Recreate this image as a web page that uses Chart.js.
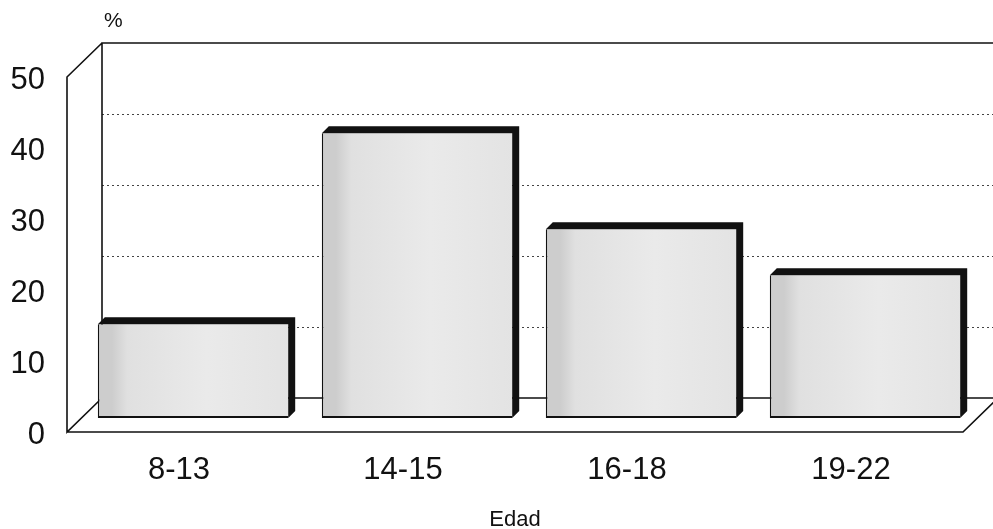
<!DOCTYPE html>
<html lang="es">
<head>
  <meta charset="UTF-8" />
  <title>Edad</title>
  <script src="https://cdn.jsdelivr.net/npm/chart.js"></script>
  <style>
    body { margin: 0; background: #fff; }
    #wrap { width: 993px; height: 529px; }
  </style>
</head>
<body>
<div id="wrap"><canvas id="chart"></canvas></div>
<script>
  const categories = ['8-13', '14-15', '16-18', '19-22'];
  const percent = [13.2, 40.1, 26.6, 20.1];
  const yTicks = [0, 10, 20, 30, 40, 50];
  const gridValues = [10, 20, 30, 40];

  const FONT = '"Liberation Sans", Arial, sans-serif';
  const BACK_DX = 35, BACK_DY = 34;   // back wall offset
  const BAR_DX = 14, BAR_DY = 14;     // bar row offset
  const BAR_DEPTH = 7;

  const frame3d = {
    id: 'frame3d',
    beforeDatasetsDraw(chart) {
      const { ctx, chartArea: ca, scales: { y } } = chart;
      const W = chart.width;
      const y0 = y.getPixelForValue(0), y50 = y.getPixelForValue(50);
      ctx.save();
      // dotted gridlines on back wall
      ctx.strokeStyle = '#444';
      ctx.lineWidth = 1;
      ctx.setLineDash([2, 3]);
      gridValues.forEach(v => {
        const py = Math.round(y.getPixelForValue(v) - BACK_DY) + 0.5;
        ctx.beginPath();
        ctx.moveTo(ca.left + BACK_DX, py);
        ctx.lineTo(W, py);
        ctx.stroke();
      });
      ctx.setLineDash([]);
      ctx.strokeStyle = '#111';
      ctx.lineWidth = 1.6;
      ctx.beginPath();
      // back wall
      ctx.moveTo(W, y50 - BACK_DY);
      ctx.lineTo(ca.left + BACK_DX, y50 - BACK_DY);
      ctx.lineTo(ca.left + BACK_DX, y0 - BACK_DY);
      ctx.lineTo(W, y0 - BACK_DY);
      // side wall
      ctx.moveTo(ca.left + BACK_DX, y50 - BACK_DY);
      ctx.lineTo(ca.left, y50);
      ctx.lineTo(ca.left, y0);
      ctx.lineTo(ca.left + BACK_DX, y0 - BACK_DY);
      // floor front
      ctx.moveTo(ca.left, y0);
      ctx.lineTo(ca.right, y0);
      ctx.lineTo(ca.right + BACK_DX, y0 - BACK_DY);
      ctx.stroke();
      ctx.restore();

      ctx.save();
      ctx.translate(BAR_DX, -BAR_DY);
    },
    afterDatasetsDraw(chart) {
      const { ctx } = chart;
      const d = BAR_DEPTH;
      chart.getDatasetMeta(0).data.forEach(bar => {
        const l = bar.x - bar.width / 2, r = bar.x + bar.width / 2;
        ctx.fillStyle = '#111';
        ctx.beginPath();
        ctx.moveTo(l, bar.y);
        ctx.lineTo(l + d, bar.y - d);
        ctx.lineTo(r + d, bar.y - d);
        ctx.lineTo(r + d, bar.base - d);
        ctx.lineTo(r, bar.base);
        ctx.lineTo(r, bar.y);
        ctx.closePath();
        ctx.fill();
      });
      ctx.restore();

      ctx.save();
      ctx.fillStyle = '#111';
      ctx.font = '21px ' + FONT;
      ctx.textAlign = 'left';
      ctx.textBaseline = 'middle';
      ctx.fillText('%', 104, 21);
      ctx.restore();
    }
  };

  function faceFill(context) {
    const chart = context.chart;
    if (!chart.chartArea) return '#e6e6e6';
    const cx = chart.scales.x.getPixelForValue(context.dataIndex) + BAR_DX;
    const g = chart.ctx.createLinearGradient(cx - 95, 0, cx + 95, 0);
    g.addColorStop(0, '#cdcdcd');
    g.addColorStop(0.08, '#e0e0e0');
    g.addColorStop(0.5, '#eaeaea');
    g.addColorStop(1, '#e2e2e2');
    return g;
  }

  new Chart(document.getElementById('chart'), {
    type: 'bar',
    data: {
      labels: categories,
      datasets: [{
        data: percent,
        backgroundColor: faceFill,
        borderColor: '#111',
        borderWidth: { top: 0, right: 0, bottom: 2, left: 1.5 },
        borderSkipped: false,
        categoryPercentage: 1,
        barPercentage: 0.85
      }]
    },
    options: {
      responsive: true,
      maintainAspectRatio: false,
      animation: false,
      events: [],
      layout: { padding: { top: 77, right: 30, left: 0, bottom: 0 } },
      plugins: { legend: { display: false }, tooltip: { enabled: false } },
      scales: {
        x: {
          offset: true,
          grid: { display: false, drawTicks: false },
          border: { display: false },
          ticks: { color: '#111', font: { family: FONT, size: 31 }, padding: 20, maxRotation: 0, autoSkip: false },
          title: { display: true, text: 'Edad', color: '#111', font: { family: FONT, size: 22 }, padding: { top: 0, bottom: -4 } },
          afterFit: s => { s.height = 97; }
        },
        y: {
          min: 0,
          max: 50,
          grid: { display: false, drawTicks: false },
          border: { display: false },
          afterBuildTicks: s => { s.ticks = yTicks.map(v => ({ value: v })); },
          ticks: { color: '#111', font: { family: FONT, size: 31 }, padding: 22, labelOffset: 3 },
          afterFit: s => { s.width = 67; }
        }
      }
    },
    plugins: [frame3d]
  });
</script>
</body>
</html>
